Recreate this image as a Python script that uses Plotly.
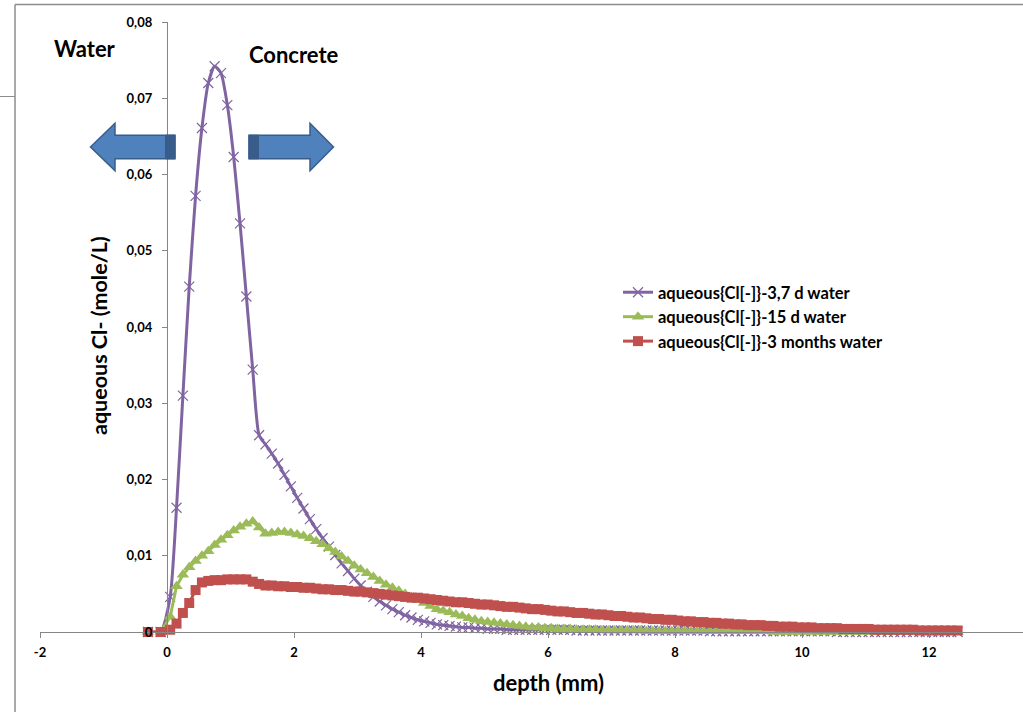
import plotly.graph_objects as go

# ---------------- data ----------------
DEPTH = [-0.3, -0.1,
         0.05, 0.15, 0.25, 0.35, 0.45, 0.55, 0.65, 0.75, 0.85, 0.95,
         1.05, 1.15, 1.25, 1.35, 1.45, 1.55, 1.65, 1.75, 1.85, 1.95,
         2.05, 2.15, 2.25, 2.35, 2.45, 2.55, 2.65, 2.75, 2.85, 2.95,
         3.05, 3.15, 3.25, 3.35, 3.45, 3.55, 3.65, 3.75, 3.85, 3.95,
         4.05, 4.15, 4.25, 4.35, 4.45, 4.55, 4.65, 4.75, 4.85, 4.95,
         5.05, 5.15, 5.25, 5.35, 5.45, 5.55, 5.65, 5.75, 5.85, 5.95,
         6.05, 6.15, 6.25, 6.35, 6.45, 6.55, 6.65, 6.75, 6.85, 6.95,
         7.05, 7.15, 7.25, 7.35, 7.45, 7.55, 7.65, 7.75, 7.85, 7.95,
         8.05, 8.15, 8.25, 8.35, 8.45, 8.55, 8.65, 8.75, 8.85, 8.95,
         9.05, 9.15, 9.25, 9.35, 9.45, 9.55, 9.65, 9.75, 9.85, 9.95,
         10.05, 10.15, 10.25, 10.35, 10.45, 10.55, 10.65, 10.75, 10.85, 10.95,
         11.05, 11.15, 11.25, 11.35, 11.45, 11.55, 11.65, 11.75, 11.85, 11.95,
         12.05, 12.15, 12.25, 12.35, 12.45]

CL_3_7D = [0, 0,
           0.0046, 0.0163, 0.0310, 0.0453, 0.0572, 0.0661, 0.0720, 0.0742, 0.0733, 0.0691,
           0.0623, 0.0536, 0.0440, 0.0344, 0.0258, 0.0246, 0.0234, 0.0221, 0.0206, 0.0191,
           0.0176, 0.0162, 0.0148, 0.0135, 0.0123, 0.0112, 0.0101, 0.0090, 0.0080, 0.0070,
           0.0061, 0.0053, 0.0046, 0.0040, 0.0035, 0.0030, 0.0026, 0.0022, 0.0019, 0.0016,
           0.0014, 0.0012, 0.0010, 0.0009, 0.0008, 0.0007, 0.0006, 0.0006, 0.0005, 0.0005,
           0.0004, 0.0004, 0.0004, 0.0003, 0.0003, 0.0003, 0.0003, 0.0003, 0.0003, 0.0003,
           0.0003, 0.0003, 0.0003, 0.0003, 0.0002, 0.0002, 0.0002, 0.0002, 0.0002, 0.0002,
           0.0002, 0.0002, 0.0002, 0.0002, 0.0002, 0.0002, 0.0002, 0.0002, 0.0002, 0.0002,
           0.0002, 0.0002, 0.0002, 0.0002, 0.0002, 0.0001, 0.0001, 0.0001, 0.0001, 0.0001,
           0.0001, 0.0001, 0.0001, 0.0001, 0.0001, 0.0001, 0.0001, 0.0001, 0.0001, 0.0001,
           0.0001, 0.0001, 0.0001, 0.0001, 0.0001, 0.0, 0.0, 0.0, 0.0, 0.0,
           0.0, 0.0, 0.0, 0.0, 0.0, 0.0, 0.0, 0.0, 0.0, 0.0,
           0.0, 0.0, 0.0, 0.0, 0.0]

CL_15D = [0, 0,
          0.0020, 0.0060, 0.0075, 0.0085, 0.0093, 0.0100, 0.0106, 0.0114, 0.0121, 0.0127,
          0.0133, 0.0138, 0.0142, 0.0145, 0.0137, 0.0129, 0.0130, 0.0131, 0.0131, 0.0130,
          0.0128, 0.0126, 0.0123, 0.0119, 0.0115, 0.0110, 0.0105, 0.0099, 0.0093, 0.0087,
          0.0082, 0.0077, 0.0072, 0.0067, 0.0062, 0.0058, 0.0054, 0.0050, 0.0046, 0.0042,
          0.0038, 0.0034, 0.0030, 0.0028, 0.0026, 0.0023, 0.0021, 0.0018, 0.0016, 0.0014,
          0.0013, 0.0012, 0.0011, 0.0010, 0.0009, 0.0008, 0.0007, 0.0006, 0.0006, 0.0005,
          0.0005, 0.0004, 0.0004, 0.0004, 0.0003, 0.0003, 0.0003, 0.0003, 0.0002, 0.0002,
          0.0002, 0.0002, 0.0002, 0.0002, 0.0002, 0.0001, 0.0001, 0.0001, 0.0001, 0.0001,
          0.0001, 0.0001, 0.0001, 0.0001, 0.0001, 0.0001, 0.0001, 0.0001, 0.0001, 0.0001,
          0.0001, 0.0001, 0.0001, 0.0001, 0.0001, 0.0, 0.0, 0.0, 0.0, 0.0,
          0.0, 0.0, 0.0, 0.0, 0.0, 0.0, 0.0, 0.0, 0.0, 0.0,
          0.0, 0.0, 0.0, 0.0, 0.0, 0.0, 0.0, 0.0, 0.0, 0.0,
          0.0, 0.0, 0.0, 0.0, 0.0]

CL_3M = [0, 0,
         0.0003, 0.0011, 0.0025, 0.0038, 0.0055, 0.0065, 0.0067, 0.0068, 0.0068, 0.0069,
         0.0069, 0.0069, 0.0069, 0.0066, 0.0063, 0.0061, 0.0061, 0.0060, 0.0060, 0.0059,
         0.0059, 0.0058, 0.0058, 0.0057, 0.0056, 0.0056, 0.0055, 0.0055, 0.0054, 0.0053,
         0.0053, 0.0052, 0.0051, 0.0050, 0.0049, 0.0048, 0.0047, 0.0046, 0.0045, 0.0045,
         0.0044, 0.0043, 0.0042, 0.0041, 0.0040, 0.0039, 0.0039, 0.0038, 0.0037, 0.0036,
         0.0036, 0.0035, 0.0034, 0.0033, 0.0033, 0.0032, 0.0031, 0.0030, 0.0030, 0.0029,
         0.0028, 0.0027, 0.0027, 0.0026, 0.0025, 0.0025, 0.0024, 0.0023, 0.0023, 0.0022,
         0.0021, 0.0021, 0.0020, 0.0019, 0.0019, 0.0018, 0.0017, 0.0017, 0.0016, 0.0016,
         0.0015, 0.0014, 0.0014, 0.0013, 0.0013, 0.0012, 0.0012, 0.0011, 0.0011, 0.0010,
         0.0010, 0.0009, 0.0009, 0.0009, 0.0008, 0.0008, 0.0007, 0.0007, 0.0007, 0.0006,
         0.0006, 0.0006, 0.0005, 0.0005, 0.0005, 0.0005, 0.0004, 0.0004, 0.0004, 0.0004,
         0.0004, 0.0003, 0.0003, 0.0003, 0.0003, 0.0003, 0.0003, 0.0003, 0.0002, 0.0002,
         0.0002, 0.0002, 0.0002, 0.0002, 0.0002]

SERIES_NAMES = ["aqueous{Cl[-]}-3,7 d water",
                "aqueous{Cl[-]}-15 d water",
                "aqueous{Cl[-]}-3 months water"]

X_TICKS = [-2, 0, 2, 4, 6, 8, 10, 12]
X_TICK_TEXT = ["-2", "0", "2", "4", "6", "8", "10", "12"]
Y_TICKS = [0, 0.01, 0.02, 0.03, 0.04, 0.05, 0.06, 0.07, 0.08]
Y_TICK_TEXT = ["0", "0,01", "0,02", "0,03", "0,04", "0,05", "0,06", "0,07", "0,08"]

# ---------------- figure ----------------
FONT = "Lato"
W, H = 1023, 712
L, R, T, B = 40, 0, 22, 80
PW, PH = W - L - R, H - T - B


def px(xp):
    return (xp - L) / PW


def py(yp):
    return (H - B - yp) / PH


fig = go.Figure()

fig.add_trace(go.Scatter(
    x=DEPTH, y=CL_3_7D, name=SERIES_NAMES[0], mode="lines+markers",
    line=dict(color="#8064A2", width=3, shape="spline", smoothing=0.6),
    marker=dict(symbol="x-thin", size=10, color="#8064A2",
                line=dict(color="#8064A2", width=1.2)),
    cliponaxis=False, legendgroup="a"))

fig.add_trace(go.Scatter(
    x=DEPTH, y=CL_15D, name=SERIES_NAMES[1], mode="lines+markers",
    line=dict(color="#9BBB59", width=3),
    marker=dict(symbol="triangle-up", size=11, color="#9BBB59"),
    cliponaxis=False, legendgroup="b"))

fig.add_trace(go.Scatter(
    x=DEPTH, y=CL_3M, name=SERIES_NAMES[2], mode="lines+markers",
    line=dict(color="#C0504D", width=3),
    marker=dict(symbol="square", size=10, color="#C0504D"),
    cliponaxis=False, legendgroup="c"))

axis_col = "#868686"
fig.update_layout(
    width=W, height=H,
    margin=dict(l=L, r=R, t=T, b=B, autoexpand=False),
    paper_bgcolor="white", plot_bgcolor="white",
    font=dict(family=FONT, color="black"),
    showlegend=True,
    legend=dict(x=px(618), y=py(275), xanchor="left", yanchor="top",
                font=dict(family=FONT, size=16.5, color="black", weight="bold"),
                tracegroupgap=0, itemwidth=30, bgcolor="rgba(0,0,0,0)"),
    xaxis=dict(range=[-2, -2 + PW / 63.5], domain=[0, 1],
               tickvals=X_TICKS, ticktext=X_TICK_TEXT,
               showgrid=False, zeroline=False, showline=True,
               linecolor=axis_col, linewidth=1.3,
               ticks="outside", ticklen=5, tickcolor=axis_col,
               ticklabelstandoff=3,
               tickfont=dict(family=FONT, size=13, weight="bold")),
    yaxis=dict(range=[0, 0.08], anchor="free", position=px(167),
               tickvals=Y_TICKS, ticktext=Y_TICK_TEXT,
               showgrid=False, zeroline=False, showline=True,
               linecolor=axis_col, linewidth=1.3,
               ticks="outside", ticklen=5, tickcolor=axis_col,
               ticklabelstandoff=7,
               tickfont=dict(family=FONT, size=13, weight="bold")),
)

# Axis titles (placed as in the original layout)
fig.add_annotation(x=px(548), y=py(682), xref="paper", yref="paper",
                   xanchor="center", yanchor="middle",
                   text="<b>depth (mm)</b>", showarrow=False,
                   font=dict(family=FONT, size=22, color="black"))
fig.add_annotation(x=px(99), y=py(336), xref="paper", yref="paper",
                   xanchor="center", yanchor="middle", textangle=-90,
                   text="<b>aqueous Cl- (mole/L)</b>", showarrow=False,
                   font=dict(family=FONT, size=21.5, color="black"))

# Text labels
fig.add_annotation(x=px(85), y=py(48), xref="paper", yref="paper",
                   xanchor="center", yanchor="middle",
                   text="<b>Water</b>", showarrow=False,
                   font=dict(family=FONT, size=22, color="black"))
fig.add_annotation(x=px(294), y=py(54), xref="paper", yref="paper",
                   xanchor="center", yanchor="middle",
                   text="<b>Concrete</b>", showarrow=False,
                   font=dict(family=FONT, size=22, color="black"))


# Block arrows (decoration, paper coordinates)
def arrow_path(tip_x, head_x, tail_x, cy, body_h, head_h):
    pts = [(tail_x, cy - body_h / 2), (head_x, cy - body_h / 2), (head_x, cy - head_h / 2),
           (tip_x, cy), (head_x, cy + head_h / 2), (head_x, cy + body_h / 2),
           (tail_x, cy + body_h / 2)]
    return "M " + " L ".join(f"{px(a):.5f},{py(b):.5f}" for a, b in pts) + " Z"


def rect_path(x0, x1, y0, y1):
    return (f"M {px(x0):.5f},{py(y0):.5f} L {px(x1):.5f},{py(y0):.5f} "
            f"L {px(x1):.5f},{py(y1):.5f} L {px(x0):.5f},{py(y1):.5f} Z")


blue, dark = "#4F81BD", "#385D8A"
fig.add_shape(type="path", xref="paper", yref="paper",
              path=arrow_path(90.5, 115, 175, 147, 23.5, 47.5),
              fillcolor=blue, line=dict(color=dark, width=1.5))
fig.add_shape(type="path", xref="paper", yref="paper",
              path=rect_path(165.5, 175, 135.2, 158.8),
              fillcolor=dark, line=dict(color=dark, width=1))
fig.add_shape(type="path", xref="paper", yref="paper",
              path=arrow_path(333.5, 310, 249, 147, 23.5, 47.5),
              fillcolor=blue, line=dict(color=dark, width=1.5))
fig.add_shape(type="path", xref="paper", yref="paper",
              path=rect_path(249, 258.5, 135.2, 158.8),
              fillcolor=dark, line=dict(color=dark, width=1))

# Outer frame fragments (chart-area border, cropped)
frame = "#8C8C8C"
fig.add_shape(type="line", xref="paper", yref="paper",
              x0=px(15), x1=px(1023), y0=py(4.5), y1=py(4.5),
              line=dict(color=frame, width=1.5))
fig.add_shape(type="line", xref="paper", yref="paper",
              x0=px(15), x1=px(15), y0=py(4.5), y1=py(712),
              line=dict(color=frame, width=1.5))
fig.add_shape(type="line", xref="paper", yref="paper",
              x0=px(0), x1=px(15), y0=py(96.5), y1=py(96.5),
              line=dict(color=frame, width=1))

# remove the default page margin so the figure sits at the window origin
fig.write_html("out.html", config={"displayModeBar": False},
               post_script="document.body.style.margin='0';document.body.style.overflow='hidden';")
